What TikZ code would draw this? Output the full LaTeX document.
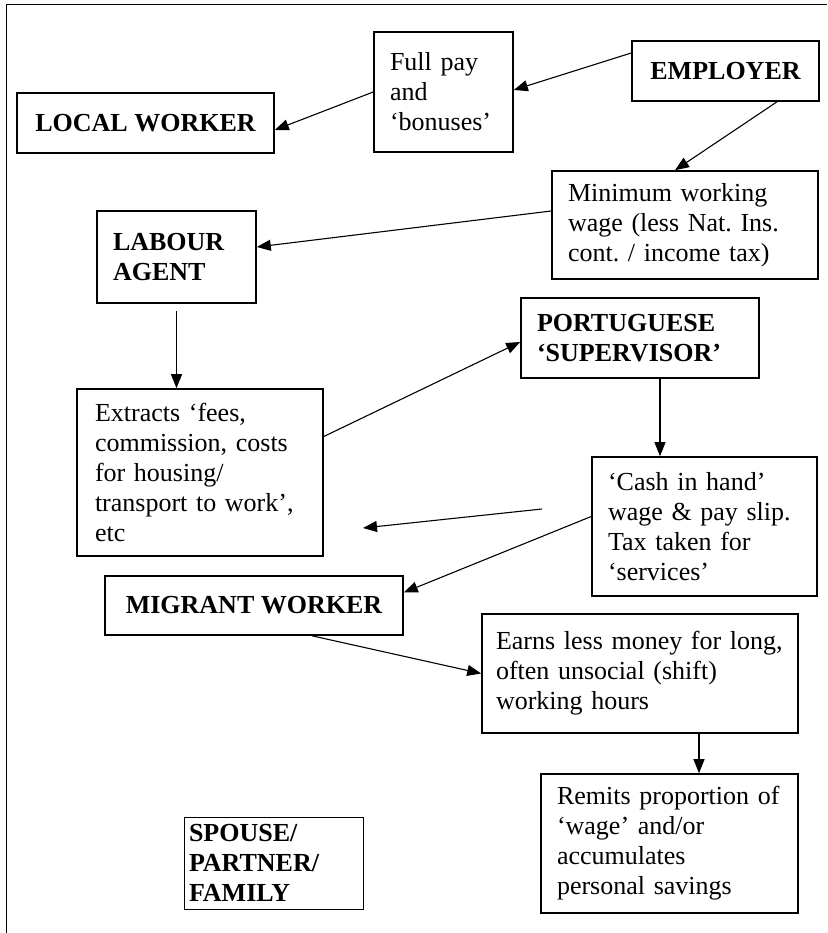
\documentclass[tikz,border=0pt]{standalone}
\usepackage{fontspec}
\setmainfont{Liberation Serif}
\usepackage{tikz}
\usetikzlibrary{arrows.meta}
\frenchspacing

\begin{document}
\begin{tikzpicture}[
		x=1pt, y=-1pt,
		box/.style={draw, line width=1.6pt, inner xsep=16pt, align=left, font=\fontsize{26}{30}\selectfont},
		capbox/.style={box, font=\fontsize{26}{30}\selectfont\bfseries},
		link/.style={line width=1.1pt, -{Triangle[length=14pt,width=11pt]}}
		]
		\useasboundingbox (0,0) rectangle (827,933);
		\draw[line width=1pt] (6,933) -- (6,5) -- (827,5);

		\node[box, text width=107pt, minimum height=120pt] (fullpay) at (443.5,92) {Full pay\\and\\‘bonuses’};
		\node[capbox, minimum width=187pt, minimum height=60pt] (employer) at (725.5,71) {EMPLOYER};
		\node[capbox, minimum width=257pt, minimum height=60pt] (local) at (145.5,123) {LOCAL WORKER};
		\node[box, text width=234pt, minimum height=108pt] (minwage) at (685,225) {Minimum working\\wage (less Nat. Ins.\\cont. / income tax)};
		\node[capbox, text width=127pt, minimum height=92pt] (agent) at (176.5,257) {LABOUR\\AGENT\\[8pt]};
		\node[capbox, text width=206pt, minimum height=80pt] (super) at (640,338) {PORTUGUESE\\‘SUPERVISOR’};
		\node[box, inner xsep=18pt, text width=210pt, minimum height=167pt] (extracts) at (200,472.5) {Extracts ‘fees,\\commission, costs\\for housing/\\transport to work’,\\etc};
		\node[box, text width=193pt, minimum height=139pt] (cash) at (704.5,526.5) {‘Cash in hand’\\wage \& pay slip.\\Tax taken for\\‘services’};
		\node[capbox, minimum width=298pt, minimum height=59pt] (migrant) at (254,605.5) {MIGRANT WORKER};
		\node[box, inner xsep=14pt, text width=288pt, minimum height=119pt] (earns) at (640,673.5) {Earns less money for long,\\often unsocial (shift)\\working hours};
		\node[box, text width=225pt, minimum height=139pt] (remits) at (669.5,843.5) {Remits proportion of\\‘wage’ and/or\\accumulates\\personal savings};
		\node[capbox, line width=1pt, inner xsep=5pt, text width=169pt, minimum height=92pt] (spouse) at (273.5,863) {SPOUSE/\\PARTNER/\\FAMILY};

		\coordinate (gapR) at (542,509);
		\coordinate (gapL) at (363,528);

		\draw[link] ([yshift=18pt]employer.west) -- ([yshift=2pt]fullpay.east);
		\draw[link] (fullpay.west) -- ([yshift=-7pt]local.east);
		\draw[link] ([xshift=51.5pt]employer.south) -- ([xshift=-10pt]minwage.north);
		\draw[link] ([yshift=14pt]minwage.west) -- ([yshift=10pt]agent.east);
		\draw[link] ([yshift=-7pt]agent.south) -- (agent.south |- extracts.north);
		\draw[link] ([yshift=36pt]extracts.east) -- ([yshift=-4pt]super.west);
		\draw[link] ([xshift=20pt]super.south) -- ([xshift=20pt]super.south |- cash.north);
		\draw[link] (gapR) -- (gapL);
		\draw[link] ([yshift=10pt]cash.west) -- ([yshift=13pt]migrant.east);
		\draw[link] ([xshift=58pt]migrant.south) -- (earns.west);
		\draw[link] ([xshift=59pt]earns.south) -- ([xshift=59pt]earns.south |- remits.north);
	\end{tikzpicture}
\end{document}
